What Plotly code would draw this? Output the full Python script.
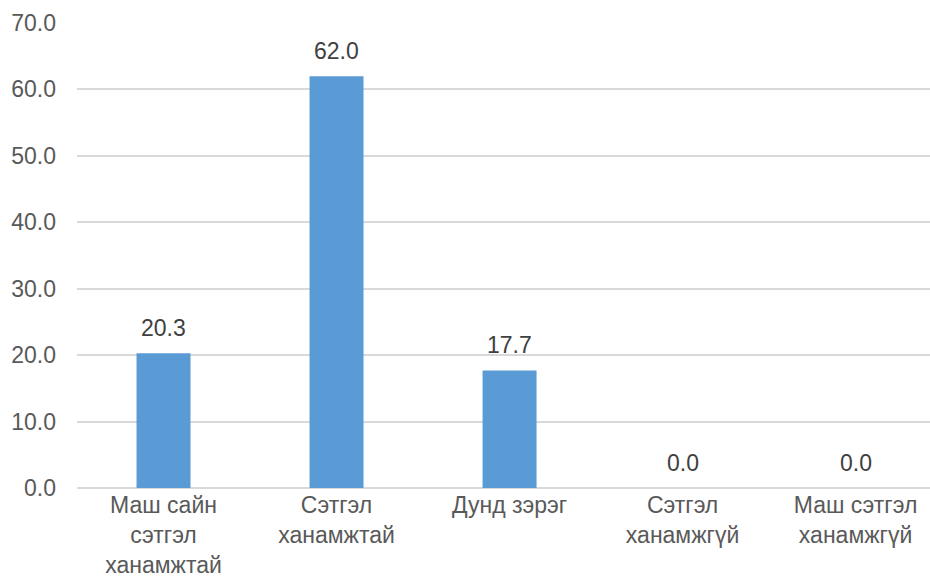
import plotly.graph_objects as go

categories = ["Маш сайн<br>сэтгэл<br>ханамжтай", "Сэтгэл<br>ханамжтай", "Дунд зэрэг",
              "Сэтгэл<br>ханамжгүй", "Маш сэтгэл<br>ханамжгүй"]
values = [20.3, 62.0, 17.7, 0.0, 0.0]
y_ticks = [0, 10, 20, 30, 40, 50, 60, 70]
y_tick_labels = [f"{v:.1f}" for v in y_ticks]

FONT = "Liberation Sans, Arial, sans-serif"
FS = 23

fig = go.Figure()
fig.add_trace(go.Bar(
    x=categories, y=values,
    marker=dict(color="#5B9BD5", line=dict(width=0)),
    width=0.312,
    hoverinfo="skip",
))

for c, v in zip(categories, values):
    fig.add_annotation(x=c, y=v, text=f"{v:.1f}", showarrow=False,
                       yanchor="bottom", yshift=10,
                       font=dict(family=FONT, size=FS, color="#404040"))

fig.update_layout(
    width=930, height=579,
    margin=dict(l=77, r=0, t=23, b=91),
    plot_bgcolor="white", paper_bgcolor="white",
    showlegend=False,
    font=dict(family=FONT, size=FS, color="#595959"),
    xaxis=dict(showgrid=False, showline=False, ticks="", range=[-0.5, 4.43],
               automargin=False,
               tickfont=dict(size=FS, color="#595959"), ticklabelstandoff=1),
    yaxis=dict(range=[0, 70], tickvals=y_ticks, ticktext=y_tick_labels,
               automargin=False,
               showgrid=True, gridcolor="#D9D9D9", gridwidth=1.5,
               zeroline=True, zerolinecolor="#D9D9D9", zerolinewidth=1.5,
               showline=False, ticks="", ticklabelstandoff=20,
               tickfont=dict(size=FS, color="#595959")),
)

fig.write_html("out.html")
